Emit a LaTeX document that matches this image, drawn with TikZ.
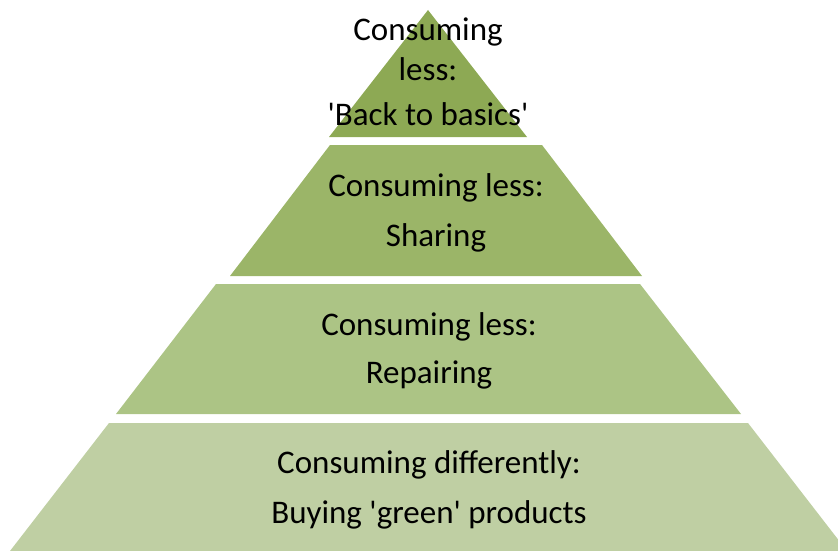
\documentclass[tikz,border=0pt]{standalone}
\usepackage{fontspec}
\setmainfont{Carlito}
\definecolor{tierA}{HTML}{8DA954}
\definecolor{tierB}{HTML}{9BB568}
\definecolor{tierC}{HTML}{ACC485}
\definecolor{tierD}{HTML}{BFCFA3}
\newcommand{\sq}{\textquotesingle}
\begin{document}
\begin{tikzpicture}[x=1pt,y=-1pt,
        tier/.style = {align=center,
            inner sep=0pt,
            font=\fontsize{33}{40}\selectfont
        }]

    \useasboundingbox (0,0) rectangle (838,551);
    \clip (0,0) rectangle (838,551);

    % Top: back to basics
    \fill[tierA] (428,10) -- (527,137) -- (329,137) -- cycle;
    \node [tier] (basics) at (428,72) {Consuming\\less:\\[5pt]\sq Back to basics\sq};

    % Sharing
    \fill[tierB] (330,145) -- (542,145) -- (642,276) -- (230,276) -- cycle;
    \node [tier] (sharing) at (436,213) {Consuming less:\\[10pt]Sharing};

    % Repairing
    \fill[tierC] (216,284) -- (640,284) -- (741,414) -- (116,414) -- cycle;
    \node [tier] (repairing) at (429,351) {Consuming less:\\[8pt]Repairing};

    % Bottom: green products
    \fill[tierD] (109,423) -- (748,423) -- (847,551) -- (10,551) -- cycle;
    \node [tier] (green) at (429,490) {Consuming differently:\\[10pt]Buying \sq green\sq{} products};

\end{tikzpicture}
\end{document}
